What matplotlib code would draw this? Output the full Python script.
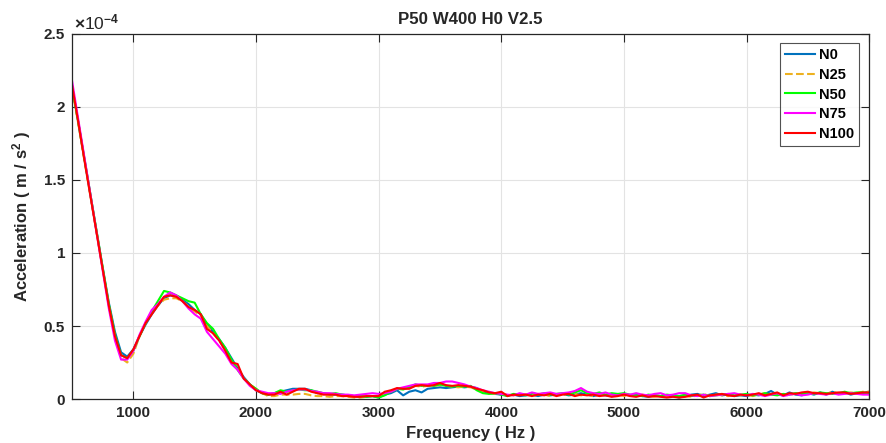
import numpy as np
import matplotlib
matplotlib.use('Agg')
import matplotlib.pyplot as plt
from matplotlib.ticker import FormatStrFormatter

plt.rcParams['font.family'] = ['Liberation Sans', 'DejaVu Sans']
plt.rcParams['font.weight'] = 'bold'
plt.rcParams['mathtext.fontset'] = 'custom'
plt.rcParams['mathtext.rm'] = 'Liberation Sans:bold'
plt.rcParams['mathtext.it'] = 'Liberation Sans:bold'
plt.rcParams['mathtext.bf'] = 'Liberation Sans:bold'

# frequency grid (Hz), 50 Hz spacing
freq = np.arange(500, 7001, 50)

# acceleration spectra in units of 1e-4 m/s^2, one row per 500 Hz
acc_N0 = [
    2.14, 1.90, 1.65, 1.40, 1.15, 0.90, 0.66, 0.46, 0.32, 0.29,
    0.34, 0.43, 0.51, 0.58, 0.64, 0.69, 0.71, 0.70, 0.68, 0.65,
    0.61, 0.58, 0.51, 0.46, 0.41, 0.35, 0.28, 0.21, 0.15, 0.10,
    0.06, 0.04, 0.03, 0.04, 0.05, 0.06, 0.07, 0.07, 0.07, 0.06,
    0.04, 0.04, 0.03, 0.03, 0.03, 0.025, 0.02, 0.015, 0.015, 0.02,
    0.01, 0.03, 0.04, 0.06, 0.025, 0.05, 0.06, 0.045, 0.07, 0.075,
    0.08, 0.075, 0.08, 0.085, 0.08, 0.085, 0.075, 0.05, 0.04, 0.035,
    0.03, 0.025, 0.03, 0.02, 0.025, 0.03, 0.02, 0.03, 0.025, 0.03,
    0.035, 0.025, 0.03, 0.04, 0.03, 0.02, 0.03, 0.025, 0.02, 0.025,
    0.035, 0.025, 0.03, 0.02, 0.015, 0.025, 0.02, 0.015, 0.02, 0.01,
    0.02, 0.03, 0.035, 0.02, 0.03, 0.04, 0.025, 0.03, 0.02, 0.025,
    0.02, 0.03, 0.025, 0.035, 0.055, 0.03, 0.025, 0.045, 0.03, 0.025,
    0.04, 0.03, 0.045, 0.03, 0.05, 0.035, 0.045, 0.03, 0.04, 0.04,
    0.05]

acc_N25 = [
    2.13, 1.89, 1.64, 1.39, 1.14, 0.89, 0.64, 0.43, 0.28, 0.25,
    0.31, 0.43, 0.52, 0.59, 0.64, 0.68, 0.69, 0.69, 0.67, 0.63,
    0.60, 0.57, 0.50, 0.45, 0.40, 0.34, 0.26, 0.21, 0.14, 0.10,
    0.07, 0.04, 0.02, 0.02, 0.03, 0.03, 0.03, 0.035, 0.035, 0.025,
    0.02, 0.02, 0.015, 0.02, 0.02, 0.015, 0.01, 0.01, 0.015, 0.02,
    0.02, 0.04, 0.05, 0.07, 0.07, 0.08, 0.09, 0.085, 0.09, 0.09,
    0.095, 0.09, 0.085, 0.08, 0.085, 0.08, 0.065, 0.05, 0.04, 0.035,
    0.04, 0.03, 0.025, 0.035, 0.03, 0.025, 0.035, 0.03, 0.02, 0.03,
    0.025, 0.04, 0.035, 0.025, 0.03, 0.02, 0.03, 0.035, 0.025, 0.03,
    0.02, 0.025, 0.02, 0.03, 0.02, 0.015, 0.025, 0.02, 0.025, 0.015,
    0.02, 0.015, 0.025, 0.035, 0.02, 0.03, 0.025, 0.02, 0.03, 0.025,
    0.03, 0.02, 0.03, 0.04, 0.03, 0.035, 0.03, 0.025, 0.04, 0.03,
    0.035, 0.045, 0.04, 0.035, 0.05, 0.04, 0.035, 0.045, 0.04, 0.05,
    0.05]

acc_N50 = [
    2.14, 1.90, 1.65, 1.40, 1.15, 0.90, 0.65, 0.44, 0.30, 0.28,
    0.33, 0.43, 0.52, 0.60, 0.67, 0.74, 0.73, 0.71, 0.69, 0.67,
    0.66, 0.58, 0.52, 0.48, 0.41, 0.35, 0.27, 0.20, 0.14, 0.10,
    0.07, 0.04, 0.03, 0.04, 0.06, 0.05, 0.06, 0.065, 0.06, 0.06,
    0.05, 0.04, 0.035, 0.04, 0.03, 0.025, 0.02, 0.02, 0.015, 0.02,
    0.01, 0.025, 0.05, 0.07, 0.065, 0.08, 0.10, 0.09, 0.095, 0.09,
    0.10, 0.09, 0.085, 0.09, 0.085, 0.09, 0.06, 0.04, 0.035, 0.04,
    0.03, 0.02, 0.035, 0.03, 0.025, 0.04, 0.03, 0.04, 0.03, 0.035,
    0.04, 0.03, 0.045, 0.06, 0.04, 0.035, 0.045, 0.03, 0.04, 0.035,
    0.04, 0.03, 0.025, 0.02, 0.03, 0.025, 0.02, 0.03, 0.025, 0.02,
    0.03, 0.02, 0.025, 0.03, 0.02, 0.025, 0.03, 0.035, 0.025, 0.03,
    0.035, 0.025, 0.03, 0.04, 0.03, 0.025, 0.035, 0.03, 0.04, 0.035,
    0.04, 0.035, 0.045, 0.04, 0.035, 0.04, 0.05, 0.04, 0.045, 0.045,
    0.04]

acc_N75 = [
    2.18, 1.92, 1.66, 1.40, 1.14, 0.88, 0.62, 0.40, 0.27, 0.27,
    0.33, 0.44, 0.53, 0.61, 0.65, 0.70, 0.73, 0.71, 0.67, 0.62,
    0.58, 0.55, 0.46, 0.41, 0.36, 0.31, 0.24, 0.20, 0.14, 0.09,
    0.06, 0.05, 0.04, 0.04, 0.035, 0.05, 0.06, 0.065, 0.065, 0.055,
    0.05, 0.04, 0.04, 0.035, 0.03, 0.03, 0.025, 0.03, 0.035, 0.04,
    0.035, 0.04, 0.05, 0.07, 0.08, 0.09, 0.10, 0.10, 0.10, 0.11,
    0.11, 0.12, 0.12, 0.11, 0.10, 0.085, 0.075, 0.06, 0.05, 0.04,
    0.035, 0.03, 0.025, 0.04, 0.03, 0.045, 0.035, 0.04, 0.045, 0.035,
    0.04, 0.045, 0.055, 0.075, 0.05, 0.04, 0.035, 0.045, 0.03, 0.025,
    0.035, 0.03, 0.04, 0.03, 0.025, 0.035, 0.04, 0.025, 0.03, 0.04,
    0.04, 0.025, 0.02, 0.03, 0.02, 0.025, 0.03, 0.035, 0.04, 0.03,
    0.025, 0.035, 0.03, 0.02, 0.03, 0.04, 0.02, 0.03, 0.035, 0.025,
    0.03, 0.04, 0.035, 0.03, 0.04, 0.03, 0.035, 0.04, 0.035, 0.03,
    0.03]

acc_N100 = [
    2.15, 1.90, 1.64, 1.39, 1.14, 0.89, 0.64, 0.43, 0.30, 0.28,
    0.34, 0.43, 0.52, 0.58, 0.64, 0.70, 0.71, 0.70, 0.67, 0.63,
    0.61, 0.58, 0.48, 0.45, 0.40, 0.33, 0.25, 0.24, 0.14, 0.10,
    0.06, 0.04, 0.03, 0.03, 0.05, 0.03, 0.05, 0.07, 0.07, 0.05,
    0.04, 0.03, 0.03, 0.03, 0.02, 0.02, 0.015, 0.015, 0.02, 0.02,
    0.02, 0.05, 0.06, 0.075, 0.07, 0.07, 0.09, 0.095, 0.09, 0.095,
    0.11, 0.095, 0.09, 0.095, 0.09, 0.085, 0.07, 0.06, 0.045, 0.04,
    0.05, 0.02, 0.03, 0.025, 0.03, 0.02, 0.03, 0.025, 0.035, 0.02,
    0.03, 0.035, 0.02, 0.03, 0.025, 0.03, 0.02, 0.025, 0.015, 0.02,
    0.03, 0.02, 0.015, 0.025, 0.015, 0.02, 0.015, 0.01, 0.015, 0.01,
    0.015, 0.025, 0.03, 0.01, 0.025, 0.03, 0.035, 0.025, 0.02, 0.03,
    0.025, 0.03, 0.04, 0.025, 0.035, 0.045, 0.025, 0.04, 0.035, 0.045,
    0.05, 0.04, 0.04, 0.035, 0.04, 0.045, 0.045, 0.035, 0.04, 0.045,
    0.045]

labels = ['N0', 'N25', 'N50', 'N75', 'N100']
colors = ['#0072BD', '#EDB120', '#00FF00', '#FF00FF', '#FF0000']
styles = ['-', '--', '-', '-', '-']
series = [acc_N0, acc_N25, acc_N50, acc_N75, acc_N100]

fig = plt.figure(figsize=(8.86, 4.43), dpi=100)
ax = fig.add_axes([0.0813, 0.0993, 0.8997, 0.8240])

for y, lab, c, ls in zip(series, labels, colors, styles):
    ax.plot(freq, y, ls, color=c, lw=1.5, label=lab)

ax.set_xlim(500, 7000)
ax.set_ylim(0, 2.5)
ax.set_xticks([1000, 2000, 3000, 4000, 5000, 6000, 7000])
ax.set_yticks([0, 0.5, 1, 1.5, 2, 2.5])
ax.yaxis.set_major_formatter(FormatStrFormatter('%g'))
ax.tick_params(direction='in', length=6, width=0.8, top=True, right=True,
               labelsize=11, colors='#262626', pad=5)
ax.grid(True, color='#e3e3e3', lw=0.8)
ax.set_axisbelow(True)
for s in ax.spines.values():
    s.set_color('#262626')
    s.set_linewidth(0.9)

ax.set_xlabel('Frequency ( Hz )', fontsize=12, fontweight='bold', color='#262626', labelpad=4)
ax.set_ylabel('Acceleration ( m / s$^{2}$ )', fontsize=12, fontweight='bold', color='#262626', labelpad=8)
ax.set_title('P50 W400 H0 V2.5', fontsize=12.2, fontweight='bold', color='#262626', pad=7)
ax.text(0.002, 1.005, r'$\times$10$^{-4}$', transform=ax.transAxes, fontsize=12.5,
        fontweight='normal', color='#262626', ha='left', va='bottom')

leg = ax.legend(loc='upper right', bbox_to_anchor=(0.9875, 0.976), borderaxespad=0,
                fancybox=False, edgecolor='#262626', fontsize=10.5, handlelength=2.0,
                labelspacing=0.4, handletextpad=0.3, borderpad=0.35)
leg.get_frame().set_linewidth(0.8)

fig.savefig('out.png', dpi=100)
